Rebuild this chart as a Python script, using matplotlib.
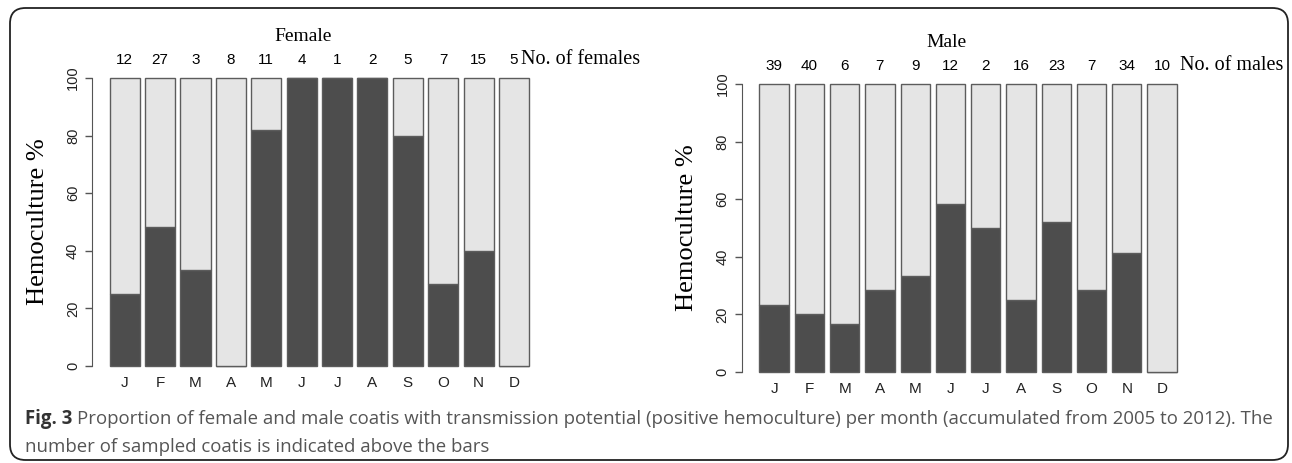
import matplotlib
matplotlib.use("Agg")
import matplotlib.pyplot as plt
from matplotlib.patches import FancyBboxPatch

# data
months = ["J", "F", "M", "A", "M", "J", "J", "A", "S", "O", "N", "D"]
female_n = [12, 27, 3, 8, 11, 4, 1, 2, 5, 7, 15, 5]
female_pos = [25, 48.1, 33.3, 0, 81.8, 100, 100, 100, 80, 28.6, 40, 0]
male_n = [39, 40, 6, 7, 9, 12, 2, 16, 23, 7, 34, 10]
male_pos = [23.1, 20, 16.7, 28.6, 33.3, 58.3, 50, 25, 52.2, 28.6, 41.2, 0]

W, H = 1292, 463
DARK = "#4d4d4d"
LIGHT = "#e5e5e5"
EDGE = "#5c5c5c"
SANS = ["Liberation Sans Narrow", "Liberation Sans", "DejaVu Sans"]
SERIF = ["Liberation Serif", "DejaVu Serif"]

fig = plt.figure(figsize=(W / 100, H / 100), dpi=100)


def px_axes(x0, x1, ytop, ybot):
    # pixel box -> figure fraction
    return fig.add_axes([x0 / W, (H - ybot) / H, (x1 - x0) / W, (ybot - ytop) / H])


def panel(ax, pos, counts, title, title_x, nlabel, nlabel_x, bar_w, month_pad):
    x = list(range(len(months)))
    rest = [100 - p for p in pos]
    ax.bar(x, pos, width=bar_w, color=DARK, edgecolor=EDGE, linewidth=1.0, clip_on=False)
    ax.bar(x, rest, bottom=pos, width=bar_w, color=LIGHT, edgecolor=EDGE,
           linewidth=1.0, clip_on=False)
    ax.set_xlim(-0.91, 11.5)
    ax.set_ylim(0, 100)
    for s in ["top", "right", "bottom"]:
        ax.spines[s].set_visible(False)
    ax.spines["left"].set_bounds(0, 100)
    ax.spines["left"].set_color("#555555")
    ax.set_yticks([0, 20, 40, 60, 80, 100])
    ax.set_yticklabels(["0", "20", "40", "60", "80", "100"], rotation=90, va="center",
                       family=SANS, fontsize=10.5, color="#222222")
    ax.tick_params(axis="y", length=5, width=1, color="#555555", pad=4)
    ax.set_xticks(x)
    ax.set_xticklabels(months, family=SANS, fontsize=11, color="#222222")
    ax.tick_params(axis="x", length=0, pad=month_pad)
    ax.set_ylabel("Hemoculture %", family=SERIF, fontsize=19)
    ax.yaxis.set_label_coords(-0.1, 0.5)
    for i, n in zip(x, counts):
        ax.text(i, 106.3, str(n), ha="center", va="center", family=SANS,
                fontsize=11, clip_on=False)
    ax.text(nlabel_x, 106.3, nlabel, ha="left", va="center", family=SERIF,
            fontsize=14.5, clip_on=False)
    ax.text(title_x, 1.145, title, transform=ax.transAxes, ha="center", va="center",
            family=SERIF, fontsize=14)
    ax.patch.set_alpha(0)


axL = px_axes(92.5, 531.7, 78, 366)
panel(axL, female_pos, female_n, "Female", 0.479, "No. of females", 11.2, 0.85, 7.5)

axR = px_axes(742, 1179.7, 84, 372)
panel(axR, male_pos, male_n, "Male", 0.466, "No. of males", 11.5, 0.83, 7.5)

# rounded frame
frame = FancyBboxPatch((10 / W, 3 / H), 1278 / W, 452 / H,
                       boxstyle="round,pad=0,rounding_size=0.012",
                       transform=fig.transFigure, fill=False, edgecolor="#222222",
                       linewidth=1.3, mutation_aspect=W / H)
fig.patches.append(frame)

# caption
cap_font = ["Open Sans", "DejaVu Sans"]
cap_size = 13.4
t1 = fig.text(25 / W, (H - 424) / H, "Fig. 3", family=cap_font, fontsize=cap_size,
              fontweight="bold", color="#333333", va="baseline")
fig.canvas.draw()
bb = t1.get_window_extent()
fig.text(bb.x1 / W + 5 / W, (H - 424) / H,
         "Proportion of female and male coatis with transmission potential (positive "
         "hemoculture) per month (accumulated from 2005 to 2012). The",
         family=cap_font, fontsize=cap_size, color="#555555", va="baseline")
fig.text(25 / W, (H - 452) / H, "number of sampled coatis is indicated above the bars",
         family=cap_font, fontsize=cap_size, color="#555555", va="baseline")

fig.savefig("out.png", dpi=100)
